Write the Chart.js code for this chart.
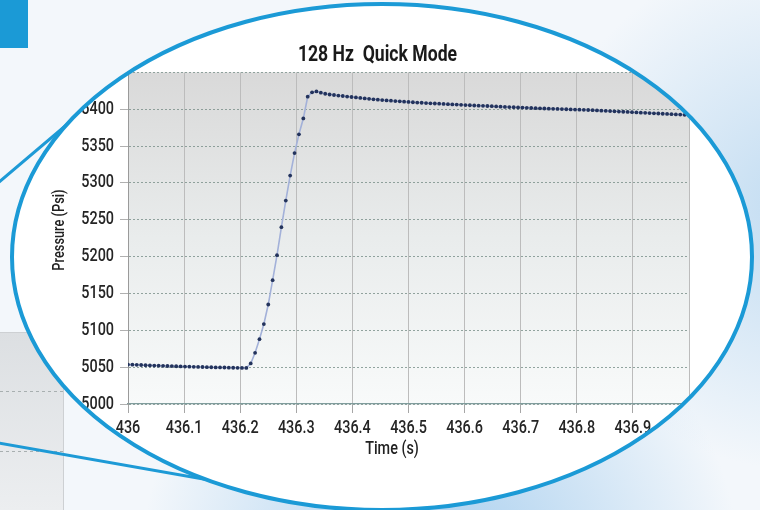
<!DOCTYPE html>
<html>
<head>
<meta charset="utf-8">
<title>128 Hz Quick Mode</title>
<script src="https://cdn.jsdelivr.net/npm/chart.js@4.4.1/dist/chart.umd.min.js"></script>
<style>
    html, body { margin: 0; padding: 0; background: #f3f7fb; }
    #chart-area { width: 760px; height: 510px; }
</style>
</head>
<body>
<div id="chart-area">
    <canvas id="pressureChart" width="760" height="510"></canvas>
</div>
<script>
var chartTitle = '128 Hz  Quick Mode';
var timeTitle = 'Time (s)';
var pressureTitle = 'Pressure (Psi)';

// samples start at 436 s, 128 per second
var startTime = 436;
var sampleRate = 128;
var pressure = [
    5053.5, 5053.3, 5053.1, 5052.9, 5052.6, 5052.4, 5052.2, 5052.0, 5051.8, 5051.6,
    5051.4, 5051.2, 5051.0, 5050.8, 5050.7, 5050.5, 5050.3, 5050.2, 5050.0, 5049.9,
    5049.7, 5049.6, 5049.5, 5049.3, 5049.2, 5049.1, 5049.0, 5049.0, 5055.0, 5069.5,
    5088.0, 5108.5, 5135.0, 5168.0, 5202.0, 5240.0, 5276.0, 5310.0, 5340.5, 5366.0,
    5387.5, 5417.0, 5423.0, 5424.2, 5422.5, 5421.0, 5420.0, 5419.3, 5418.5, 5418.0,
    5417.2, 5416.6, 5416.0, 5415.3, 5414.7, 5414.1, 5413.5, 5413.0, 5412.5, 5412.0,
    5411.6, 5411.1, 5410.7, 5410.3, 5409.9, 5409.5, 5409.1, 5408.8, 5408.4, 5408.1,
    5407.8, 5407.5, 5407.2, 5406.9, 5406.6, 5406.3, 5406.0, 5405.7, 5405.4, 5405.1,
    5404.8, 5404.6, 5404.4, 5404.1, 5403.8, 5403.5, 5403.2, 5403.0, 5402.7, 5402.4,
    5402.2, 5401.9, 5401.7, 5401.4, 5401.2, 5401.0, 5400.8, 5400.6, 5400.4, 5400.2,
    5400.0, 5399.8, 5399.6, 5399.4, 5399.2, 5399.0, 5398.7, 5398.4, 5398.1, 5397.8,
    5397.5, 5397.2, 5396.9, 5396.6, 5396.3, 5396.0, 5395.7, 5395.4, 5395.1, 5394.8,
    5394.5, 5394.2, 5393.9, 5393.6, 5393.3, 5393.0, 5392.7, 5392.4
];

var timeRange = [436, 437];
var timeStep = 0.1;
var pressureRange = [5000, 5450];
var pressureStep = 50;

var fontFamily = "Roboto, 'Liberation Sans', sans-serif";

function bubblePath(ctx) {
    ctx.beginPath();
    ctx.ellipse(382, 257, 370, 253, 0, 0, Math.PI * 2);
}

// no condensed face is installed, so squeeze the text a little
var narrowTextPlugin = {
    id: 'narrowText',
    beforeInit: function (chart) {
        var ctx = chart.ctx;
        var fill = ctx.fillText;
        ctx.fillText = function (text, x, y) {
            this.save();
            this.translate(x, y);
            this.scale(0.8, 1);
            fill.call(this, text, 0, 0);
            this.restore();
        };
    }
};

// page background, callout lines and the magnifier bubble
var bubblePlugin = {
    id: 'bubble',
    beforeDraw: function (chart) {
        var ctx = chart.ctx;
        var area = chart.chartArea;
        ctx.save();
        ctx.fillStyle = '#f3f7fb';
        ctx.fillRect(0, 0, 760, 510);
        var glow = ctx.createRadialGradient(800, 210, 10, 800, 210, 260);
        glow.addColorStop(0, 'rgba(190, 218, 241, 0.9)');
        glow.addColorStop(1, 'rgba(190, 218, 241, 0)');
        ctx.fillStyle = glow;
        ctx.fillRect(0, 0, 760, 510);
        var glow2 = ctx.createRadialGradient(440, 570, 10, 440, 570, 300);
        glow2.addColorStop(0, 'rgba(165, 205, 238, 0.95)');
        glow2.addColorStop(1, 'rgba(165, 205, 238, 0)');
        ctx.fillStyle = glow2;
        ctx.fillRect(0, 0, 760, 510);

        ctx.fillStyle = '#1b9ad6';
        ctx.fillRect(0, 0, 28, 48);

        var panel = ctx.createLinearGradient(0, 332, 0, 510);
        panel.addColorStop(0, '#dcdfe2');
        panel.addColorStop(1, '#eceef0');
        ctx.fillStyle = panel;
        ctx.fillRect(0, 332, 63, 178);
        ctx.strokeStyle = '#cdd0d3';
        ctx.lineWidth = 1;
        ctx.beginPath();
        ctx.moveTo(0, 332.5); ctx.lineTo(63.5, 332.5); ctx.lineTo(63.5, 510);
        ctx.stroke();
        ctx.setLineDash([3, 3]);
        ctx.strokeStyle = '#a8afb0';
        ctx.beginPath();
        ctx.moveTo(0, 391.5); ctx.lineTo(63, 391.5);
        ctx.moveTo(0, 451.5); ctx.lineTo(63, 451.5);
        ctx.stroke();
        ctx.setLineDash([]);

        ctx.strokeStyle = '#1d9ad6';
        ctx.lineWidth = 3;
        ctx.beginPath();
        ctx.moveTo(-2, 183); ctx.lineTo(110, 88);
        ctx.moveTo(-2, 443); ctx.lineTo(300, 496);
        ctx.stroke();

        bubblePath(ctx);
        ctx.fillStyle = '#ffffff';
        ctx.fill();
        ctx.restore();

        // everything the chart draws stays inside the bubble
        ctx.save();
        bubblePath(ctx);
        ctx.clip();
        var bg = ctx.createLinearGradient(0, area.top, 0, area.bottom);
        bg.addColorStop(0, '#d9d9d9');
        bg.addColorStop(0.5, '#e9ecec');
        bg.addColorStop(1, '#f8fafa');
        ctx.fillStyle = bg;
        ctx.fillRect(area.left, area.top, area.right - area.left, area.bottom - area.top);
    },
    afterDraw: function (chart) {
        var ctx = chart.ctx;
        ctx.restore();
        ctx.save();
        bubblePath(ctx);
        ctx.strokeStyle = '#1b9ad6';
        ctx.lineWidth = 4;
        ctx.stroke();
        ctx.restore();
    }
};

var chartData = {
    datasets: [{
        label: pressureTitle,
        data: pressure.map(function (p, i) {
            return { x: startTime + i / sampleRate, y: p };
        }),
        borderColor: '#a3b1d9',
        borderWidth: 1.6,
        pointRadius: 1.9,
        pointHoverRadius: 1.9,
        pointBorderWidth: 0,
        pointBackgroundColor: '#23335c',
        tension: 0,
        fill: false
    }]
};

var chartOption = {
    responsive: false,
    animation: false,
    devicePixelRatio: 1,
    layout: {
        padding: { left: 66, right: 71, top: 0, bottom: 0 }
    },
    plugins: {
        legend: { display: false },
        tooltip: { enabled: false },
        title: {
            display: true,
            text: chartTitle,
            color: '#1a1a1a',
            font: { family: fontFamily, size: 22, weight: 'bold' },
            padding: { top: 42, bottom: 4 }
        }
    },
    scales: {
        x: {
            type: 'linear',
            min: timeRange[0],
            max: timeRange[1],
            afterFit: function (scale) { scale.height = 106; },
            ticks: {
                stepSize: timeStep,
                autoSkip: false,
                maxRotation: 0,
                color: '#252525',
                padding: 5,
                font: { family: fontFamily, size: 18, weight: '500' },
                callback: function (value) {
                    return String(Number(value.toFixed(1)));
                }
            },
            grid: {
                color: '#bcbcbc',
                tickColor: '#a6a6a6',
                tickLength: 9
            },
            border: { color: '#7f9c9c', width: 1.2 },
            title: {
                display: true,
                text: timeTitle + '\u2003\u2003 ',
                color: '#222222',
                font: { family: fontFamily, size: 18, weight: '500' },
                padding: { top: 0, bottom: 50 }
            }
        },
        y: {
            type: 'linear',
            min: pressureRange[0],
            max: pressureRange[1],
            afterFit: function (scale) { scale.width = 62; },
            ticks: {
                stepSize: pressureStep,
                color: '#252525',
                padding: 6,
                font: { family: fontFamily, size: 18, weight: '500' },
                callback: function (value) {
                    return String(value);
                }
            },
            grid: {
                color: 'rgba(120, 142, 136, 0.8)',
                tickColor: '#b0b0b0',
                tickLength: 8
            },
            border: { color: '#9a9a9a', width: 1, dash: [2, 2] },
            title: {
                display: true,
                text: '\u2003 ' + pressureTitle,
                color: '#222222',
                font: { family: fontFamily, size: 16, weight: '500' },
                padding: { top: -16, bottom: 0 }
            }
        }
    }
};

new Chart(document.getElementById('pressureChart'), {
    type: 'line',
    data: chartData,
    options: chartOption,
    plugins: [narrowTextPlugin, bubblePlugin]
});
</script>
</body>
</html>
